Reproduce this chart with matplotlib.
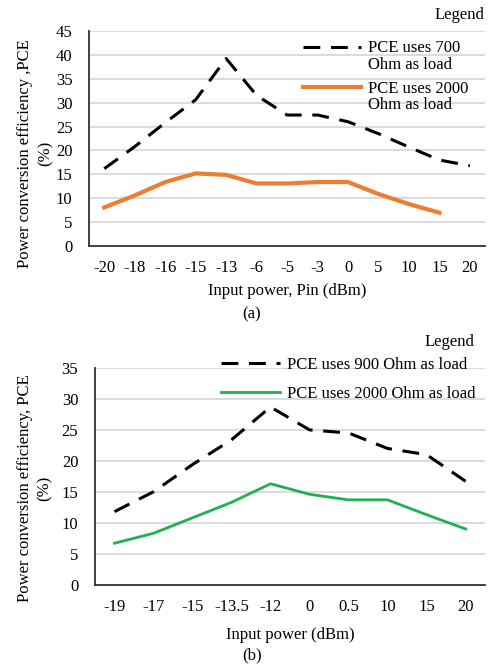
import matplotlib.pyplot as plt
from matplotlib.legend_handler import HandlerLine2D

plt.rcParams['font.family'] = ['Liberation Serif', 'DejaVu Serif']

# --- data (a) ---
cats_a = ['-20', '-18', '-16', '-15', '-13', '-6', '-5', '-3', '0', '5', '10', '15', '20']
pce700 = [16.2, 20.8, 25.8, 30.6, 39.2, 31.5, 27.4, 27.4, 26.0, 23.5, 20.7, 18.0, 16.8]
pce2000_a = [8.1, 10.6, 13.4, 15.2, 14.9, 13.1, 13.1, 13.4, 13.4, 10.9, 8.8, 7.0]

# --- data (b) ---
cats_b = ['-19', '-17', '-15', '-13.5', '-12', '0', '0.5', '10', '15', '20']
pce900 = [11.8, 15.0, 19.4, 23.4, 28.7, 25.0, 24.5, 22.0, 21.0, 16.7]
pce2000_b = [6.7, 8.3, 10.8, 13.3, 16.3, 14.6, 13.7, 13.7, 11.3, 9.0]

FS = 12
GRID = '#d9d9d9'


class RaisedHandler(HandlerLine2D):
    # put the legend line next to the first text line instead of the middle
    def __init__(self, dy, **kw):
        super().__init__(**kw)
        self.dy = dy

    def create_artists(self, legend, orig_handle, xdescent, ydescent, width, height, fontsize, trans):
        return super().create_artists(legend, orig_handle, xdescent, ydescent - self.dy,
                                      width, height, fontsize, trans)


fig = plt.figure(figsize=(4.92, 6.69), dpi=100)
ax1 = fig.add_axes([0.181, 0.632, 0.805, 0.322])
ax2 = fig.add_axes([0.193, 0.126, 0.793, 0.324])


def style(ax, ymax, step):
    ax.set_ylim(0, ymax)
    ax.set_yticks(range(0, ymax + 1, step))
    ax.grid(axis='y', color=GRID, linewidth=1.3)
    ax.set_axisbelow(True)
    for s in ['top', 'right']:
        ax.spines[s].set_visible(False)
    ax.spines['left'].set_color('#333333')
    ax.spines['bottom'].set_color('#333333')
    ax.spines['left'].set_linewidth(1.3)
    ax.spines['bottom'].set_linewidth(1.3)
    ax.tick_params(length=0, labelsize=FS)
    ax.tick_params(axis='x', pad=10)
    ax.tick_params(axis='y', pad=12)


# panel (a)
xa = range(len(cats_a))
l1, = ax1.plot(xa, pce700, color='black', lw=2.2, dashes=(5.5, 3.5), label='PCE uses 700\nOhm as load')
l2, = ax1.plot(range(len(pce2000_a)), pce2000_a, color='#ED7D31', lw=3.0, label='PCE uses 2000\nOhm as load')
style(ax1, 45, 5)
ax1.set_xticks(list(xa))
ax1.set_xticklabels(cats_a)
ax1.set_xlim(-0.5, len(cats_a) - 0.5)
ax1.set_xlabel('Input power, Pin (dBm)', fontsize=FS, labelpad=5)
ax1.set_ylabel('Power conversion efficiency ,PCE\n(%)', fontsize=FS, linespacing=1.35)
ax1.yaxis.set_label_coords(-0.09, 0.43)
leg1 = ax1.legend(loc='upper left', bbox_to_anchor=(0.615, 0.940), bbox_transform=fig.transFigure,
                  frameon=False, fontsize=FS, borderpad=0, borderaxespad=0,
                  handlelength=3.5, handletextpad=0.45, labelspacing=0.48,
                  handler_map={l1: RaisedHandler(14), l2: RaisedHandler(14)})
for t in leg1.get_texts():
    t.set_linespacing(1.05)
fig.text(0.985, 0.977, 'Legend', ha='right', va='center', fontsize=FS)
fig.text(0.512, 0.530, '(a)', ha='center', va='center', fontsize=FS)

# panel (b)
xb = range(len(cats_b))
ax2.plot(xb, pce900, color='black', lw=2.2, dashes=(5.5, 3.5), label='PCE uses 900 Ohm as load')
ax2.plot(xb, pce2000_b, color='#1DB150', lw=2.0, label='PCE uses 2000 Ohm as load')
style(ax2, 35, 5)
ax2.set_xticks(list(xb))
ax2.set_xticklabels(cats_b)
ax2.set_xlim(-0.5, len(cats_b) - 0.5)
ax2.set_xlabel('Input power (dBm)', fontsize=FS, labelpad=9)
ax2.set_ylabel('Power conversion efficiency, PCE\n(%)', fontsize=FS, linespacing=1.35)
ax2.yaxis.set_label_coords(-0.108, 0.443)
ax2.legend(loc='upper left', bbox_to_anchor=(0.45, 0.467), bbox_transform=fig.transFigure,
           frameon=False, fontsize=FS, borderpad=0, borderaxespad=0,
           handlelength=3.5, handletextpad=0.45, labelspacing=0.8)
fig.text(0.965, 0.489, 'Legend', ha='right', va='center', fontsize=FS)
fig.text(0.512, 0.021, '(b)', ha='center', va='center', fontsize=FS)

fig.savefig('out.png', dpi=100)
